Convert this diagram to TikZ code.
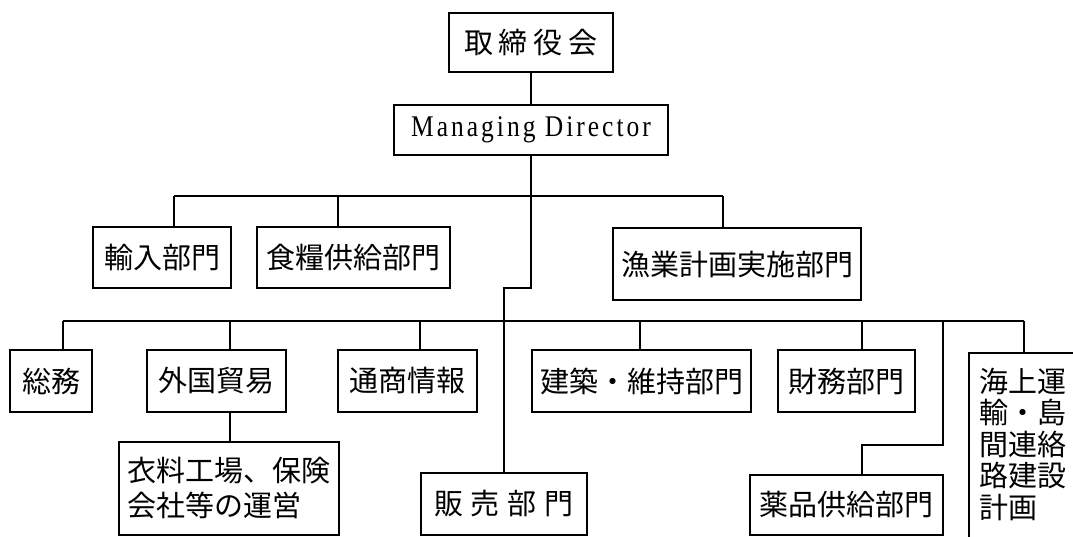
\documentclass[tikz,border=0pt]{standalone}
\usepackage{fontspec}
\newfontfamily\jp{Noto Sans CJK JP}
\newfontfamily\mdfont{Liberation Serif}[FakeStretch=0.85, LetterSpace=10]
\begin{document}
\begin{tikzpicture}[x=1pt,y=-1pt,
  box/.style={draw, line width=1.4pt, rectangle, inner sep=0pt, align=center,
    font=\jp\fontsize{29}{35}\selectfont},
  link/.style={line width=1.4pt},
  thickbox/.style={box, line width=2.2pt}]
\useasboundingbox (0,0) rectangle (1073,537);
\clip (0,0) rectangle (1073,537);
% nodes
\node[box, minimum width=164, minimum height=59] (board) at (531,42.5) {取\hspace{6pt}締\hspace{6pt}役\hspace{6pt}会};
\node[box, minimum width=274, minimum height=50, font=\mdfont\fontsize{30}{34}\selectfont] (md) at (531,130) {Managing Director};
\node[box, minimum width=138, minimum height=61] (imp) at (162,257.5) {輸入部門};
\node[box, minimum width=193, minimum height=61] (food) at (353.5,257.5) {食糧供給部門};
\node[thickbox, minimum width=248, minimum height=72] (fish) at (737,264) {漁業計画実施部門};
\node[box, minimum width=82, minimum height=62] (soumu) at (51,381) {総務};
\node[box, minimum width=139, minimum height=62] (gaikoku) at (216.5,381) {外国貿易};
\node[box, minimum width=139, minimum height=62] (tsusho) at (407.5,381) {通商情報};
\node[box, minimum width=219, minimum height=62] (kenchiku) at (641.5,381) {建築・維持部門};
\node[box, minimum width=137, minimum height=62] (zaimu) at (846.5,381) {財務部門};
\node[box, minimum width=220, minimum height=93, align=left] (ifuku) at (229,488.5) {衣料工場、保険\\会社等の運営};
\node[box, minimum width=166, minimum height=62] (sales) at (504,504) {販\hspace{8pt}売\hspace{8pt}部\hspace{8pt}門};
\node[box, minimum width=193, minimum height=60] (yakuhin) at (846.5,505) {薬品供給部門};
\node[box, draw=none, anchor=north west, align=left, inner xsep=10pt, inner ysep=14pt,
  font=\jp\fontsize{29}{31.5}\selectfont] (kaijo) at (969,353) {海上運\\輸・島\\間連絡\\路建設\\計画};
\draw[link] ([yshift=-60pt]kaijo.south west) |- ([xshift=80pt]kaijo.north east);
% bus coordinates
\coordinate (b1i) at (174,196);
\coordinate (b1f) at (338,196);
\coordinate (b1m) at (531,196);
\coordinate (b1x) at (723,196);
\coordinate (jog) at (531,288);
\coordinate (b2s) at (63,321);
\coordinate (b2g) at (230,321);
\coordinate (b2t) at (420,321);
\coordinate (b2k) at (640,321);
\coordinate (b2z) at (862,321);
\coordinate (b2m) at (943,321);
\coordinate (b2j) at (1024,321);
\coordinate (medjog) at (943,445);
% connectors
\draw[link] (board.south) -- (md.north);
\draw[link] (md.south) -- (b1m) -- (jog) -| (sales.north);
\draw[link] (b1i) -- (b1x);
\draw[link] (b1i) -- (imp.north -| b1i);
\draw[link] (b1f) -- (food.north -| b1f);
\draw[link] (b1x) -- (fish.north -| b1x);
\draw[link] (b2s) -- (b2j);
\draw[link] (b2s) -- (soumu.north -| b2s);
\draw[link] (b2g) -- (gaikoku.north -| b2g);
\draw[link] (b2t) -- (tsusho.north -| b2t);
\draw[link] (b2k) -- (kenchiku.north -| b2k);
\draw[link] (b2z) -- (zaimu.north -| b2z);
\draw[link] (b2j) -- (kaijo.north -| b2j);
\draw[link] (b2m) -- (medjog) -| (yakuhin.north -| b2z);
\draw[link] (gaikoku.south -| b2g) -- (ifuku.north -| b2g);
\end{tikzpicture}
\end{document}
